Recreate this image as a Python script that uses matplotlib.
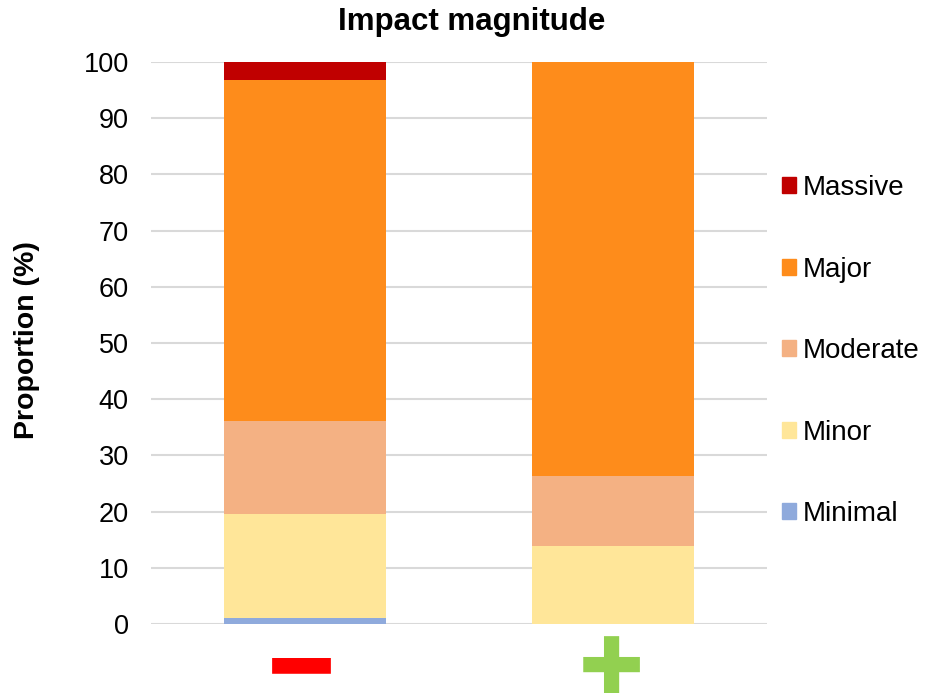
import matplotlib
matplotlib.use("Agg")
import matplotlib.pyplot as plt
from matplotlib.patches import Rectangle
import numpy as np

plt.rcParams['font.family'] = ['Liberation Sans', 'DejaVu Sans']

categories = ["−", "+"]
category_glyphs = ["━", "✚"]
category_colors = ["#FF0000", "#92D050"]
levels = ["Minimal", "Minor", "Moderate", "Major", "Massive"]
values = {
    "Minimal": [1.1, 0.0],
    "Minor": [18.4, 13.8],
    "Moderate": [16.6, 12.5],
    "Major": [60.75, 73.7],
    "Massive": [3.15, 0.0],
}
colors = {
    "Minimal": "#8FAADC",
    "Minor": "#FFE699",
    "Moderate": "#F4B183",
    "Major": "#FE8C1B",
    "Massive": "#C00000",
}
yticks = [0, 10, 20, 30, 40, 50, 60, 70, 80, 90, 100]

W, H = 939, 693
fig = plt.figure(figsize=(W / 100, H / 100), dpi=100)
ax = fig.add_axes([151 / W, 1 - 624 / H, (767 - 151) / W, (624 - 62) / H])

x = np.arange(len(categories))
bottom = np.zeros(len(categories))
for lev in levels:
    v = np.array(values[lev])
    ax.bar(x, v, bottom=bottom, width=0.526, color=colors[lev], label=lev, zorder=3, linewidth=0)
    bottom += v

ax.set_xlim(-0.5, 1.5)
ax.set_ylim(0, 100)
ax.set_yticks(yticks)
ax.set_yticklabels([str(t) for t in yticks], fontsize=19.5)
ax.yaxis.grid(True, color="#D9D9D9", linewidth=1.5, zorder=0)
ax.set_axisbelow(True)
for s in ax.spines.values():
    s.set_visible(False)
ax.tick_params(axis='y', length=0, pad=16)
ax.tick_params(axis='x', length=0)
ax.set_xticks(x)
ax.set_xticklabels([])

glyph_sizes = [68, 56]
glyph_offsets = [-0.013, -0.005]
glyph_y = [-8.45, -8.3]
for i, (g, c) in enumerate(zip(category_glyphs, category_colors)):
    ax.text(x[i] + glyph_offsets[i], glyph_y[i], g, color=c, fontsize=glyph_sizes[i],
            ha='center', va='center', family='DejaVu Sans',
            transform=ax.transData, clip_on=False)

fig.text(472 / W, 1 - 22 / H, "Impact magnitude", ha='center', va='center',
         fontsize=22.5, fontweight='bold')
fig.text(27 / W, 1 - 340 / H, "Proportion (%)", ha='center', va='center',
         rotation=90, fontsize=20.5, fontweight='bold')

handles = [Rectangle((0, 0), 1, 1, color=colors[l]) for l in levels[::-1]]
fig.legend(handles, levels[::-1], loc='upper left',
           bbox_to_anchor=(782 / W, 1 - 175 / H), frameon=False,
           fontsize=20, handlelength=0.5, handleheight=0.5,
           handletextpad=0.25, labelspacing=2.0, borderpad=0, borderaxespad=0)

fig.savefig("out.png", dpi=100)
